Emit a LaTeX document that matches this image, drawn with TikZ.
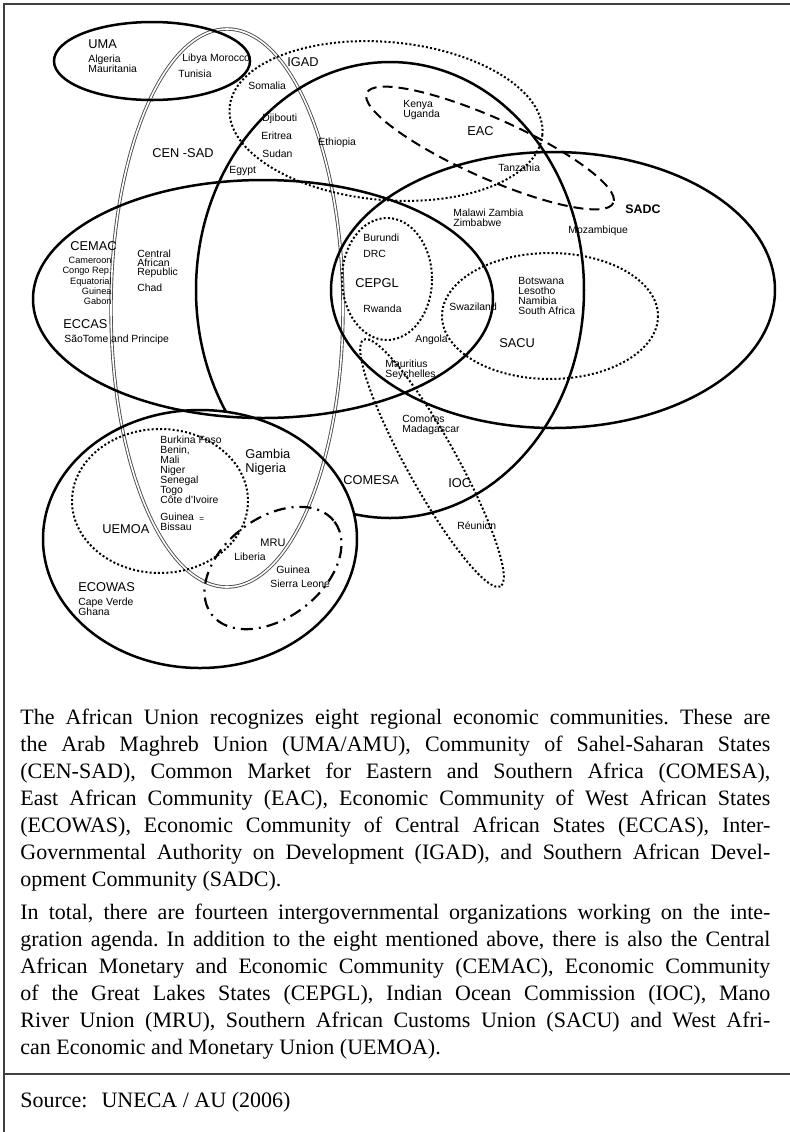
\documentclass[tikz,border=0pt]{standalone}
\usepackage{fontspec}
\setmainfont{Liberation Serif}
\newfontfamily\labelfont{Liberation Sans}
\usepackage{tikz}
\frenchspacing

\begin{document}
\begin{tikzpicture}
[x=0.5pt, y=-0.5pt,
 every node/.style={inner sep=0pt, anchor=west, align=left, font=\labelfont\fontsize{5.2}{5}\selectfont},
 org/.style={font=\labelfont\fontsize{6.4}{7}\selectfont},
 small/.style={font=\labelfont\fontsize{4.6}{5.15}\selectfont},
 ring/.style={line width=1.25pt},
 dots/.style={line width=1pt, dash pattern=on 1pt off 1.1pt},
 dashes/.style={line width=1pt, dash pattern=on 5pt off 3pt},
 dashdot/.style={line width=1.1pt, dash pattern=on 6pt off 3pt on 1pt off 3pt}]
\useasboundingbox (0,0) rectangle (790,1132);
\draw [line width=0.6pt, black!75] (4,1132) -- (4,4) -- (790,4);
\draw [line width=0.6pt, black!75] (4,1074) -- (790,1074);

\draw [line width=0.45pt, double distance=0.8pt, draw=black!70] (227,308) ellipse [x radius=116, y radius=279];
\draw [ring] (152,61) ellipse [x radius=98, y radius=39];
\draw [dots, rotate around={-5:(386,121)}] (386,121) ellipse [x radius=157, y radius=79];
\begin{scope}[even odd rule]
\clip (0,0) rectangle (790,1132) (200,539) ellipse [x radius=157, y radius=129];
\draw [ring] (390,290) ellipse [x radius=194, y radius=228];
\end{scope}
\draw [ring] (263,299) ellipse [x radius=230, y radius=119];
\draw [ring] (553,290) ellipse [x radius=222, y radius=138];
\draw [dashes, rotate around={-24:(490,148)}] (490,148) ellipse [x radius=135, y radius=30];
\draw [dots] (550,316) ellipse [x radius=108, y radius=63];
\draw [dots] (387,279) ellipse [x radius=45, y radius=61];
\draw [dots, rotate around={-61:(432,463)}] (432,463) ellipse [x radius=141, y radius=25];
\draw [ring] (200,539) ellipse [x radius=157, y radius=129];
\draw [dots] (160,501) ellipse [x radius=88, y radius=72];
\draw [dashdot, rotate around={37:(273,568)}] (273,568) ellipse [x radius=77, y radius=50];

\node (uma) at (88,44) [org] {UMA};
\node (algeria) at (88,64) {Algeria\\Mauritania};
\node (libya) at (182,59) {Libya Morocco};
\node (tunisia) at (178,74) {Tunisia};
\node (igad) at (287,62) [org] {IGAD};
\node (somalia) at (248,86) {Somalia};
\node (djibouti) at (262,119) {Djibouti};
\node (eritrea) at (261,136) {Eritrea};
\node (sudan) at (262,154) {Sudan};
\node (ethiopia) at (318,143) {Ethiopia};
\node (censad) at (152,153) [org] {CEN -SAD};
\node (egypt) at (229,171) {Egypt};
\node (kenya) at (403,110) {Kenya\\Uganda};
\node (eac) at (467,131) [org] {EAC};
\node (tanzania) at (498,168) {Tanzania};
\node (sadc) at (625,209) [org, font=\labelfont\bfseries\fontsize{6.2}{7}\selectfont] {SADC};
\node (malawi) at (453,218) {Malawi Zambia\\Zimbabwe};
\node (mozambique) at (568,231) {Mozambique};
\node (cemac) at (70,246) [org] {CEMAC};
\node (cameroon) at (112,281) [small, anchor=east, align=right] {Cameroon\\Congo Rep.\\Equatorial\\Guinea\\Gabon};
\node (central) at (137,264) [font=\labelfont\fontsize{5.2}{4.6}\selectfont] {Central\\African\\Republic};
\node (chad) at (137,288) {Chad};
\node (eccas) at (63,324) [org] {ECCAS};
\node (saotome) at (64,340) {SãoTome and Principe};
\node (burundi) at (363,238) {Burundi};
\node (drc) at (363,254) {DRC};
\node (cepgl) at (355,283) [org] {CEPGL};
\node (rwanda) at (363,309) {Rwanda};
\node (botswana) at (518,296) [font=\labelfont\fontsize{5.2}{5.15}\selectfont] {Botswana\\Lesotho\\Namibia\\South Africa};
\node (swaziland) at (449,307) {Swaziland};
\node (sacu) at (499,343) [org] {SACU};
\node (angola) at (415,340) {Angola};
\node (mauritius) at (385,370) {Mauritius\\Seychelles};
\node (comoros) at (402,425) {Comoros\\Madagascar};
\node (comesa) at (343,480) [org] {COMESA};
\node (ioc) at (448,483) [org] {IOC};
\node (reunion) at (457,526) {Réunion};
\node (burkina) at (160,470) {Burkina Faso\\Benin,\\Mali\\Niger\\Senegal\\Togo\\Côte d'Ivoire};
\node (bissau) at (160,522) {Guinea\\Bissau};
\node (mark) at (199,520) [font=\labelfont\fontsize{4}{4}\selectfont] {=};
\node (gambia) at (245,462) [org] {Gambia\\Nigeria};
\node (uemoa) at (102,529) [org] {UEMOA};
\node (mru) at (260,543) [font=\labelfont\fontsize{5.5}{5.5}\selectfont] {MRU};
\node (liberia) at (234,557) {Liberia};
\node (guinea) at (276,570) {Guinea};
\node (sierra) at (270,584) {Sierra Leone};
\node (ecowas) at (78,587) [org] {ECOWAS};
\node (capeverde) at (78,607) {Cape Verde\\Ghana};

\node (para) at (20,709) [anchor=north west, align=justify, text width=375pt, font=\rmfamily\fontsize{11}{13.5}\selectfont]
{The African Union recognizes eight regional economic communities. These are\linebreak
the Arab Maghreb Union (UMA/AMU), Community of Sahel-Saharan States\linebreak
(CEN-SAD), Common Market for Eastern and Southern Africa (COMESA),\linebreak
East African Community (EAC), Economic Community of West African States\linebreak
(ECOWAS), Economic Community of Central African States (ECCAS), Inter-\linebreak
Governmental Authority on Development (IGAD), and Southern African Devel-\linebreak
opment Community (SADC).\par\vspace{3pt}
In total, there are fourteen intergovernmental organizations working on the inte-\linebreak
gration agenda. In addition to the eight mentioned above, there is also the Central\linebreak
African Monetary and Economic Community (CEMAC), Economic Community\linebreak
of the Great Lakes States (CEPGL), Indian Ocean Commission (IOC), Mano\linebreak
River Union (MRU), Southern African Customs Union (SACU) and West Afri-\linebreak
can Economic and Monetary Union (UEMOA).};
\node (source) at (20,1102) [font=\rmfamily\fontsize{11}{13}\selectfont] {Source:\hspace{7pt}UNECA / AU (2006)};
\end{tikzpicture}
\end{document}
